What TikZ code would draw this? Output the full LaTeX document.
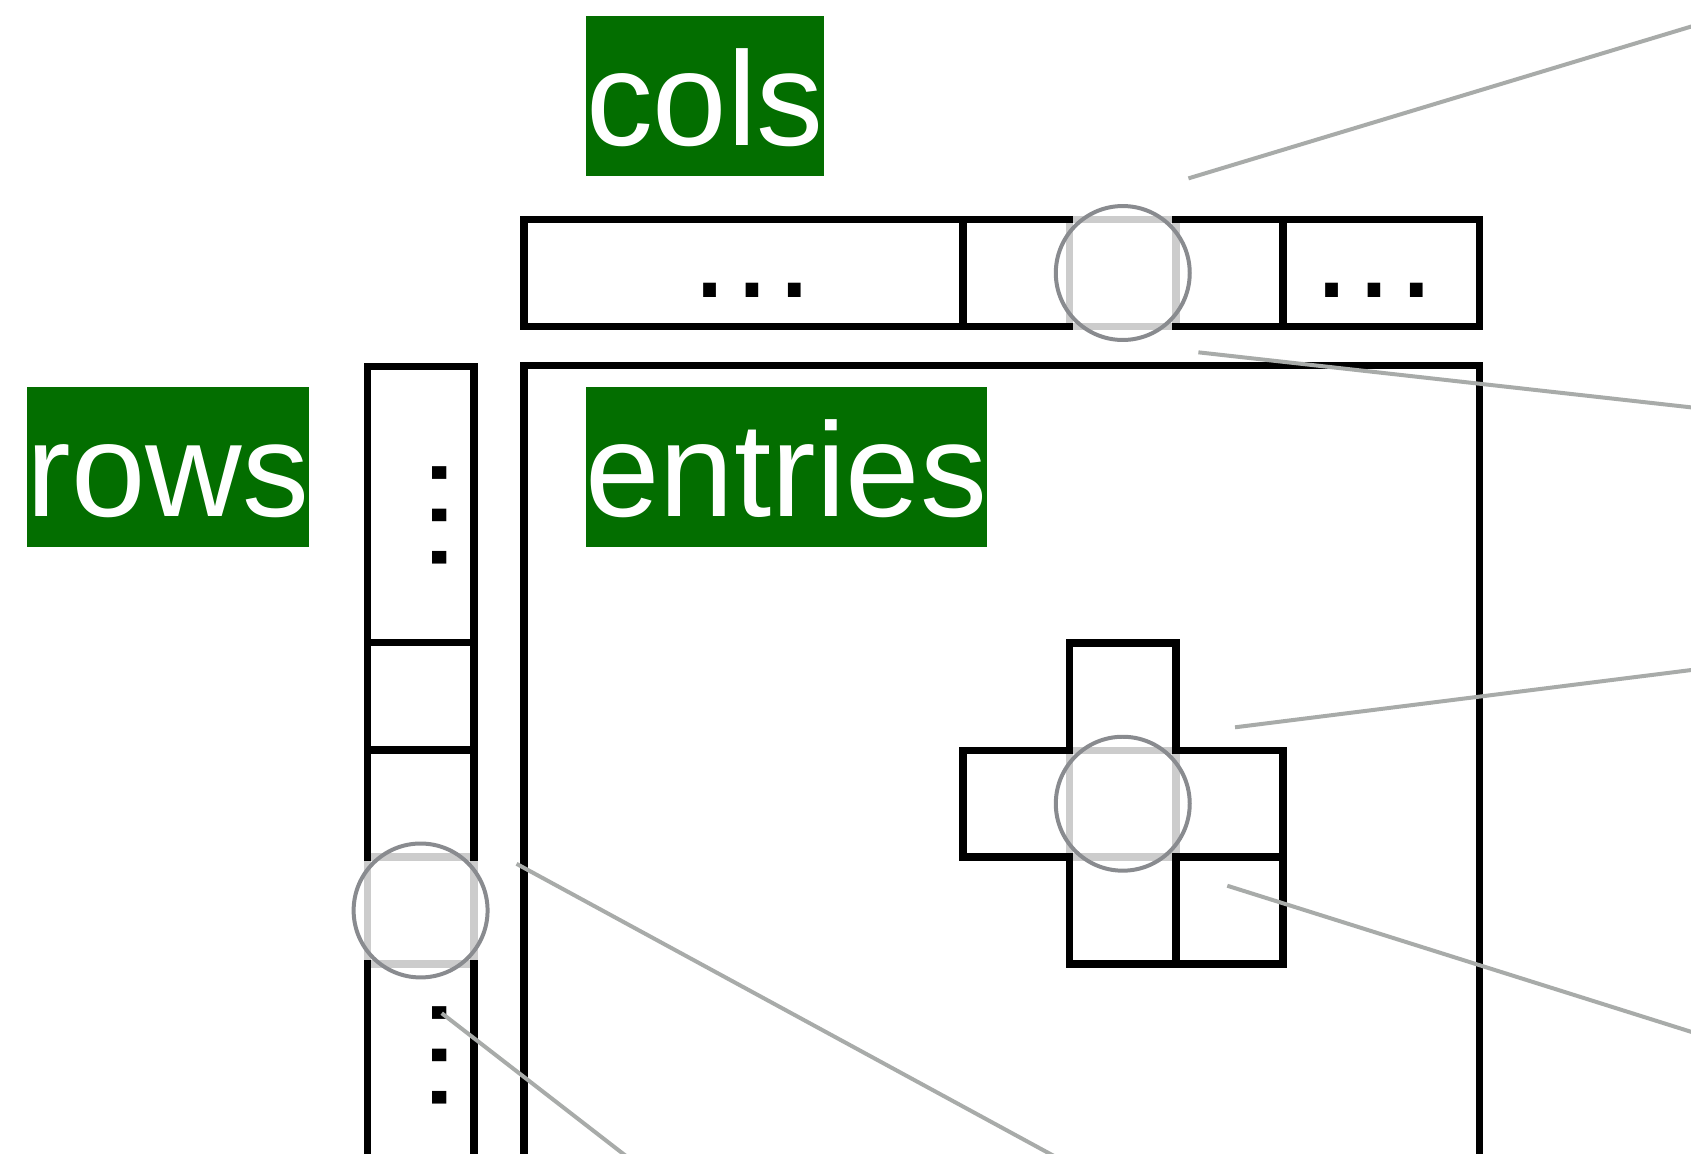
\documentclass[tikz,border=0pt]{standalone}
\usepackage{fontspec}
\setmainfont{Liberation Sans}
\definecolor{labelgreen}{RGB}{3,110,0}
\definecolor{conngray}{RGB}{168,171,169}
\definecolor{ringgray}{RGB}{137,139,143}
\definecolor{hlgray}{RGB}{204,204,204}
\tikzset{
  cell/.style={draw=black, line width=6.8pt, rectangle, inner sep=0pt, outer sep=0pt, anchor=north west},
  hl/.style={draw=hlgray, line width=6.8pt, line cap=butt},
  ring/.style={draw=ringgray, line width=3.7pt, circle, inner sep=0pt, outer sep=0pt, minimum size=124.2pt},
  conn/.style={draw=conngray, line width=3.7pt, line cap=butt},
  lbl/.style={fill=labelgreen, text=white, inner sep=0pt, outer sep=0pt, anchor=north west,
    text height=120.2pt, text depth=28pt, font=\fontsize{124}{124}\selectfont},
  dotstext/.style={inner sep=0pt, outer sep=0pt, anchor=base, font=\fontsize{124}{124}\selectfont},
}
\newcommand{\hlcellof}[1]{%
  \draw[hl] ([xshift=3.4pt]#1.north west) -- ([xshift=-3.4pt]#1.north east);
  \draw[hl] ([xshift=3.4pt]#1.south west) -- ([xshift=-3.4pt]#1.south east);
  \draw[hl] ([yshift=-3.4pt]#1.north west) -- ([yshift=3.4pt]#1.south west);
  \draw[hl] ([yshift=-3.4pt]#1.north east) -- ([yshift=3.4pt]#1.south east);
}
\begin{document}
\begin{tikzpicture}[x=1pt,y=-1pt]
\useasboundingbox (0,0) rectangle (1568,1070);
\fill[white] (0,0) rectangle (1568,1070);
\clip (0,0) rectangle (1568,1070);

% labels
\node[lbl] (cols) at (543.4,14.8) {cols};
\node[lbl] (rows) at (25,358.6) {rows};
\node[lbl] (entries) at (543,358.6) {entries};

% entries box
\node[cell, minimum width=885.8pt, minimum height=771.3pt] (ebox) at (486,338.7) {};

% top bar
\node[cell, minimum width=407pt, minimum height=98.9pt] (tL) at (486,203.7) {};
\node[cell, minimum width=98.7pt, minimum height=98.9pt] (t1) at (893,203.7) {};
\node[cell, minimum width=98.8pt, minimum height=98.9pt] (tg) at (991.7,203.7) {};
\node[cell, minimum width=99.2pt, minimum height=98.9pt] (t3) at (1090.5,203.7) {};
\node[cell, minimum width=182.1pt, minimum height=98.9pt] (tR) at (1189.7,203.7) {};
\node[dotstext] (tLdots) at (698,276) {…};
\node[dotstext] (tRdots) at (1274,276) {…};

% rows column
\node[cell, minimum width=98.8pt, minimum height=256pt] (rTop) at (340.6,340) {};
\node[cell, minimum width=98.8pt, minimum height=99.5pt] (r1) at (340.6,596) {};
\node[cell, minimum width=98.8pt, minimum height=99pt] (r2) at (340.6,695.5) {};
\node[cell, minimum width=98.8pt, minimum height=99.5pt] (rg) at (340.6,794.5) {};
\node[cell, minimum width=98.8pt, minimum height=216pt] (rBot) at (340.6,894) {};
\node[dotstext, rotate=-90] (rTopdots) at (401.2,478.3) {…};
\node[dotstext, rotate=-90] (rBotdots) at (401.2,978.3) {…};

% cross in entries
\node[cell, minimum width=98.8pt, minimum height=99.5pt] (cT) at (991.7,596.3) {};
\node[cell, minimum width=98.7pt, minimum height=98.9pt] (cL) at (893,695.8) {};
\node[cell, minimum width=98.8pt, minimum height=98.9pt] (cg) at (991.7,695.8) {};
\node[cell, minimum width=99.2pt, minimum height=98.9pt] (cR) at (1090.5,695.8) {};
\node[cell, minimum width=98.8pt, minimum height=99.2pt] (cB) at (991.7,794.7) {};
\node[cell, minimum width=99.2pt, minimum height=99.2pt] (cBR) at (1090.5,794.7) {};

% highlighted cells
\hlcellof{tg}
\hlcellof{cg}
\hlcellof{rg}

% rings
\node[ring] (tring) at (tg.center) {};
\node[ring] (cring) at (cg.center) {};
\node[ring] (rring) at (rg.center) {};

% connectors
\coordinate (a1) at (1102,165.4);   \coordinate (b1) at (1600,15.0);
\coordinate (a2) at (1111.2,326.7); \coordinate (b2) at (1600,381.3);
\coordinate (a3) at (1145.2,674.4); \coordinate (b3) at (1600,617.3);
\coordinate (a4) at (1138,821.3);   \coordinate (b4) at (1600,966.8);
\coordinate (a5) at (479,801);      \coordinate (b5) at (1029,1100);
\coordinate (a6) at (409.6,939.5);  \coordinate (b6) at (616.7,1100);
\draw[conn] (a1) -- (b1);
\draw[conn] (a2) -- (b2);
\draw[conn] (a3) -- (b3);
\draw[conn] (a4) -- (b4);
\draw[conn] (a5) -- (b5);
\draw[conn] (a6) -- (b6);
\end{tikzpicture}
\end{document}
